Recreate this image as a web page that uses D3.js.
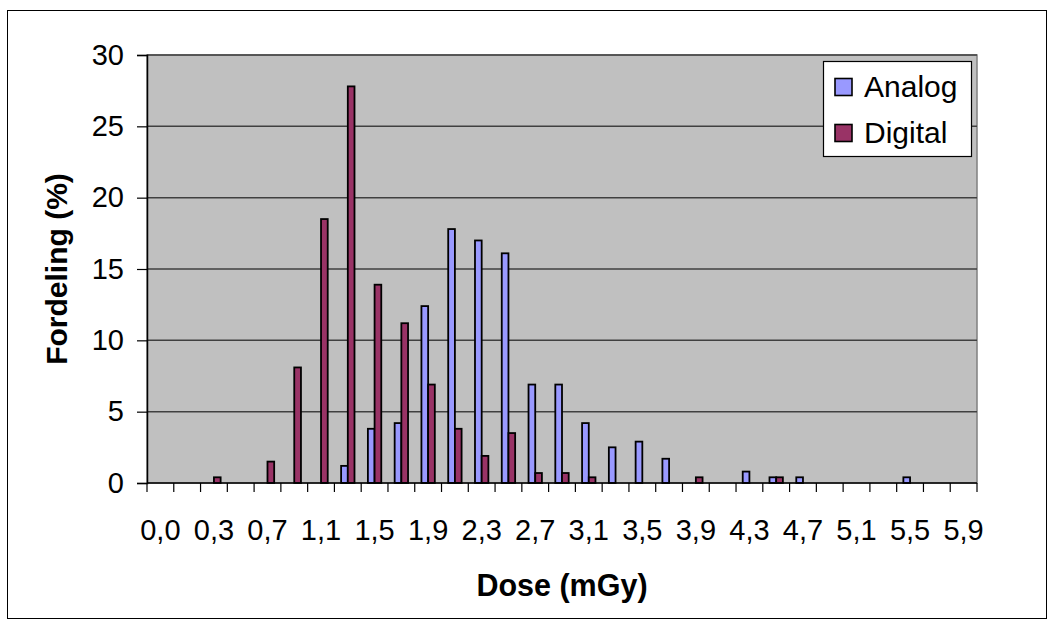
<!DOCTYPE html>
<html>
<head>
<meta charset="utf-8">
<script src="https://cdn.jsdelivr.net/npm/d3@7"></script>
<style>
  html, body { margin: 0; padding: 0; background: #ffffff; }
  svg { display: block; }
  text { font-family: "Liberation Sans", Arial, sans-serif; fill: #000; }
</style>
</head>
<body>
<svg id="chart" width="1053" height="625"></svg>
<script>
// ---- data ----
const categories = ["0,0","0,1","0,3","0,5","0,7","0,9","1,1","1,3","1,5","1,7","1,9","2,1","2,3","2,5","2,7","2,9","3,1","3,3","3,5","3,7","3,9","4,1","4,3","4,5","4,7","4,9","5,1","5,3","5,5","5,7","5,9"];
const seriesNames = ["Analog", "Digital"];
const analog  = [0,0,0,0,0,0,0,1.2,3.8,4.2,12.4,17.8,17.0,16.1,6.9,6.9,4.2,2.5,2.9,1.7,0,0,0.8,0.4,0.4,0,0,0,0.4,0,0];
const digital = [0,0,0.4,0,1.5,8.1,18.5,27.8,13.9,11.2,6.9,3.8,1.9,3.5,0.7,0.7,0.4,0,0,0,0.4,0,0,0.4,0,0,0,0,0,0,0];
const yTicks = [0,5,10,15,20,25,30];
const xTickLabels = categories.filter((d, i) => i % 2 === 0);
const colors = { Analog: "#9999ff", Digital: "#993366" };

// ---- layout ----
const svg = d3.select("#chart");
const plot = { left: 147, right: 977, top: 55, bottom: 483 };

svg.append("rect")
  .attr("x", 7.5).attr("y", 10.5).attr("width", 1039).attr("height", 608)
  .attr("fill", "#fff").attr("stroke", "#000").attr("stroke-width", 1);

const x = d3.scaleBand().domain(categories).range([plot.left, plot.right]).padding(0);
const y = d3.scaleLinear().domain([0, 30]).range([plot.bottom, plot.top]);
const bw = x.bandwidth() / 4;
const xs = d3.scaleBand().domain(seriesNames)
  .range([x.bandwidth() / 2 - bw, x.bandwidth() / 2 + bw]).padding(0);

// plot background
svg.append("rect")
  .attr("x", plot.left).attr("y", plot.top)
  .attr("width", plot.right - plot.left).attr("height", plot.bottom - plot.top)
  .attr("fill", "#c0c0c0").attr("stroke", "#808080").attr("stroke-width", 1.5);

// gridlines
svg.append("g").selectAll("line").data(yTicks.filter(d => d > 0)).join("line")
  .attr("x1", plot.left).attr("x2", plot.right)
  .attr("y1", d => y(d)).attr("y2", d => y(d))
  .attr("stroke", "#404040").attr("stroke-width", 1.5);

// bars
const table = categories.map((c, i) => ({ cat: c, Analog: analog[i], Digital: digital[i] }));
const groups = svg.append("g").selectAll("g").data(table).join("g")
  .attr("transform", d => `translate(${x(d.cat)},0)`);
groups.selectAll("rect")
  .data(d => seriesNames.map(s => ({ s, v: d[s] })).filter(e => e.v > 0))
  .join("rect")
  .attr("x", d => xs(d.s)).attr("width", xs.bandwidth())
  .attr("y", d => y(d.v)).attr("height", d => y(0) - y(d.v))
  .attr("fill", d => colors[d.s]).attr("stroke", "#000").attr("stroke-width", 1.8);

// y axis
const yAxis = d3.axisLeft(y).tickValues(yTicks).tickSize(10).tickPadding(13).tickFormat(d3.format("d"));
const gy = svg.append("g").attr("transform", `translate(${plot.left},0)`).call(yAxis);
gy.select(".domain").attr("stroke", "#000").attr("stroke-width", 1.5);
gy.selectAll(".tick line").attr("stroke", "#000").attr("stroke-width", 1.2);
gy.selectAll(".tick text").attr("font-size", 29).attr("font-family", "Liberation Sans, Arial, sans-serif");

// x axis (ticks between categories)
const boundaries = d3.range(categories.length + 1).map(i => plot.left + i * x.step());
svg.append("line").attr("x1", plot.left).attr("x2", plot.right)
  .attr("y1", plot.bottom).attr("y2", plot.bottom).attr("stroke", "#000").attr("stroke-width", 1.5);
svg.append("g").selectAll("line").data(boundaries).join("line")
  .attr("x1", d => d).attr("x2", d => d).attr("y1", plot.bottom).attr("y2", plot.bottom + 9)
  .attr("stroke", "#000").attr("stroke-width", 1.2);
svg.append("g").selectAll("text").data(xTickLabels).join("text")
  .attr("x", d => x(d) + x.bandwidth() / 2).attr("y", 540)
  .attr("text-anchor", "middle").attr("font-size", 29)
  .text(d => d);

// axis titles
svg.append("text").attr("x", (plot.left + plot.right) / 2).attr("y", 596)
  .attr("text-anchor", "middle").attr("font-size", 30.5).attr("font-weight", "bold")
  .text("Dose (mGy)");
svg.append("text")
  .attr("transform", `translate(67,${(plot.top + plot.bottom) / 2}) rotate(-90)`)
  .attr("text-anchor", "middle").attr("font-size", 30).attr("font-weight", "bold")
  .text("Fordeling (%)");

// legend
const lg = svg.append("g");
lg.append("rect").attr("x", 823.5).attr("y", 61.5).attr("width", 148).attr("height", 95)
  .attr("fill", "#fff").attr("stroke", "#000").attr("stroke-width", 1.2);
seriesNames.forEach((s, i) => {
  const cy = 87 + i * 46;
  lg.append("rect").attr("x", 835).attr("y", cy - 8.5).attr("width", 17).attr("height", 17)
    .attr("fill", colors[s]).attr("stroke", "#000").attr("stroke-width", 1.6);
  lg.append("text").attr("x", 864).attr("y", cy + 10).attr("font-size", 30).text(s);
});
</script>
</body>
</html>
